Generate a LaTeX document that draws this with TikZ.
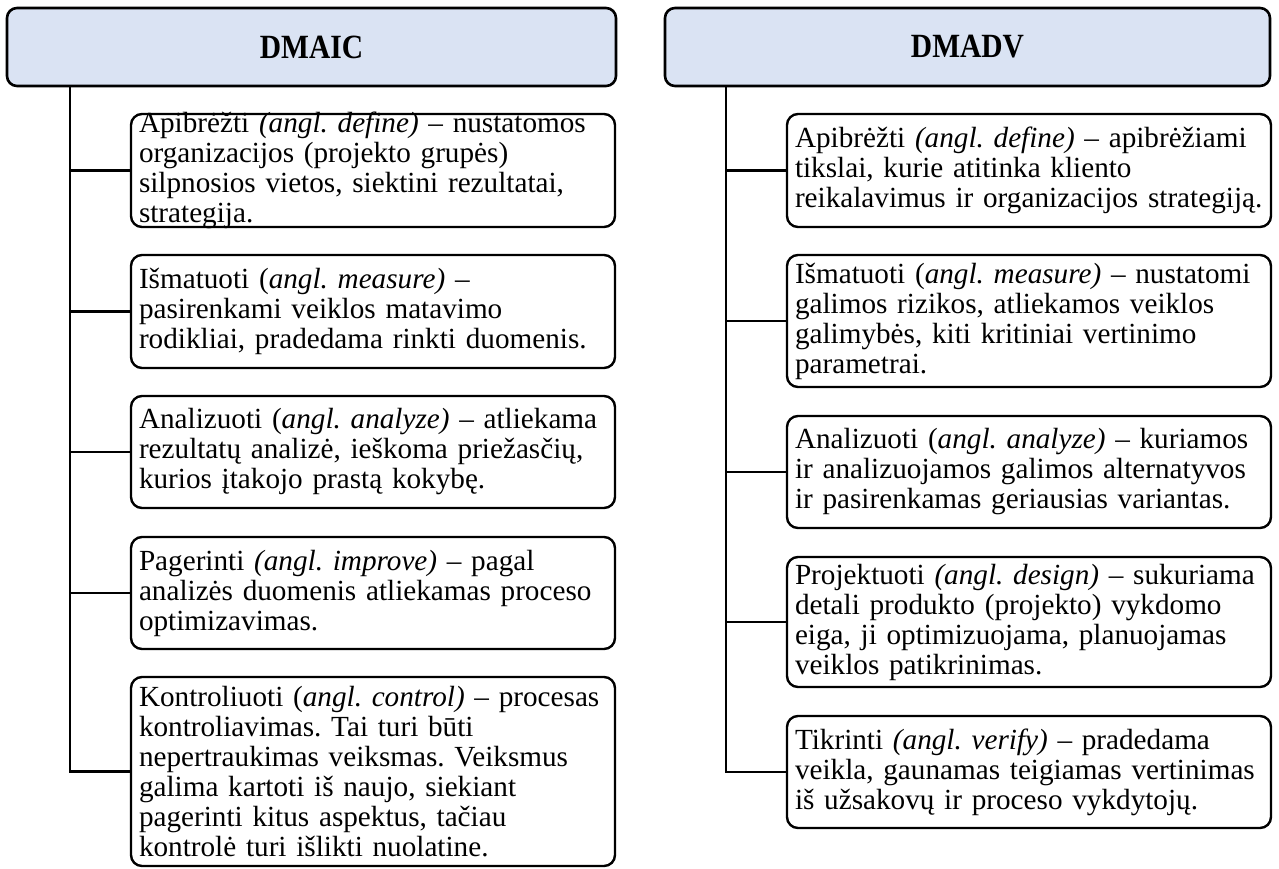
\documentclass[tikz,border=0pt]{standalone}
\usepackage{fontspec}
\setmainfont{Liberation Serif}
\frenchspacing
\definecolor{headfill}{RGB}{218,227,243}
\newcommand{\tallcaps}[1]{\scalebox{1}[1.15]{#1}}
\begin{document}
\begin{tikzpicture}[x=1pt,y=-1pt,
  head/.style={draw=black, line width=2.6pt, rounded corners=10pt, fill=headfill,
    inner sep=0pt, font=\bfseries\fontsize{29.5}{30}\selectfont},
  box/.style={draw=black, line width=2.4pt, rounded corners=11pt, fill=white,
    inner sep=0pt, minimum width=484pt},
  txt/.style={inner sep=0pt, text width=482pt, align=left, anchor=west,
    font=\fontsize{29.2}{30}\selectfont},
  conn/.style={draw=black, line width=2.8pt}]
\useasboundingbox (0,0) rectangle (1279,868);

% column headers
\node[head, minimum width=609pt, minimum height=78pt] (h1) at (311.5,47) {\tallcaps{DMAIC}};
\node[head, minimum width=605pt, minimum height=78pt] (h2) at (967.5,47) {\tallcaps{DMADV}};

% trunk positions
\coordinate (lt) at (70,0);
\coordinate (rt) at (726,0);

% DMAIC steps
\node[box, minimum height=113pt] (d1) at (373,170.5) {};
\node[box, minimum height=113pt] (d2) at (373,311.5) {};
\node[box, minimum height=112pt] (d3) at (373,452) {};
\node[box, minimum height=112pt] (d4) at (373,593) {};
\node[box, minimum height=189pt] (d5) at (373,771.5) {};

% DMADV steps
\node[box, minimum height=113pt] (v1) at (1029,170.5) {};
\node[box, minimum height=132pt] (v2) at (1029,321) {};
\node[box, minimum height=112pt] (v3) at (1029,472) {};
\node[box, minimum height=130pt] (v4) at (1029,622) {};
\node[box, minimum height=112pt] (v5) at (1029,772) {};

% connectors
\draw[conn] (h1.south -| lt) -- (d5.west -| lt) -- (d5.west);
\foreach \n in {d1,d2,d3,d4}
  \draw[conn] (\n.west -| lt) -- (\n.west);
\draw[conn] (h2.south -| rt) -- (v5.west -| rt) -- (v5.west);
\foreach \n in {v1,v2,v3,v4}
  \draw[conn] (\n.west -| rt) -- (\n.west);

% step texts
\node[txt] (d1t) at ([xshift=9pt]d1.west) {Apibrėžti \textit{(angl. define)} – nustatomos\\ organizacijos (projekto grupės)\\ silpnosios vietos, siektini rezultatai,\\ strategija.};
\node[txt] (d2t) at ([xshift=9pt]d2.west) {Išmatuoti (\textit{angl. measure)} –\\ pasirenkami veiklos matavimo\\ rodikliai, pradedama rinkti duomenis.};
\node[txt] (d3t) at ([xshift=9pt]d3.west) {Analizuoti (\textit{angl. analyze)} – atliekama\\ rezultatų analizė, ieškoma priežasčių,\\ kurios įtakojo prastą kokybę.};
\node[txt] (d4t) at ([xshift=9pt]d4.west) {Pagerinti \textit{(angl. improve)} – pagal\\ analizės duomenis atliekamas proceso\\ optimizavimas.};
\node[txt] (d5t) at ([xshift=9pt]d5.west) {Kontroliuoti (\textit{angl. control)} – procesas\\ kontroliavimas. Tai turi būti\\ nepertraukimas veiksmas. Veiksmus\\ galima kartoti iš naujo, siekiant\\ pagerinti kitus aspektus, tačiau\\ kontrolė turi išlikti nuolatine.};

\node[txt] (v1t) at ([xshift=9pt]v1.west) {Apibrėžti \textit{(angl. define)} – apibrėžiami\\ tikslai, kurie atitinka kliento\\ reikalavimus ir organizacijos strategiją.};
\node[txt] (v2t) at ([xshift=9pt]v2.west) {Išmatuoti (\textit{angl. measure)} – nustatomi\\ galimos rizikos, atliekamos veiklos\\ galimybės, kiti kritiniai vertinimo\\ parametrai.};
\node[txt] (v3t) at ([xshift=9pt]v3.west) {Analizuoti (\textit{angl. analyze)} – kuriamos\\ ir analizuojamos galimos alternatyvos\\ ir pasirenkamas geriausias variantas.};
\node[txt] (v4t) at ([xshift=9pt]v4.west) {Projektuoti \textit{(angl. design)} – sukuriama\\ detali produkto (projekto) vykdomo\\ eiga, ji optimizuojama, planuojamas\\ veiklos patikrinimas.};
\node[txt] (v5t) at ([xshift=9pt]v5.west) {Tikrinti \textit{(angl. verify)} – pradedama\\ veikla, gaunamas teigiamas vertinimas\\ iš užsakovų ir proceso vykdytojų.};
\end{tikzpicture}
\end{document}
